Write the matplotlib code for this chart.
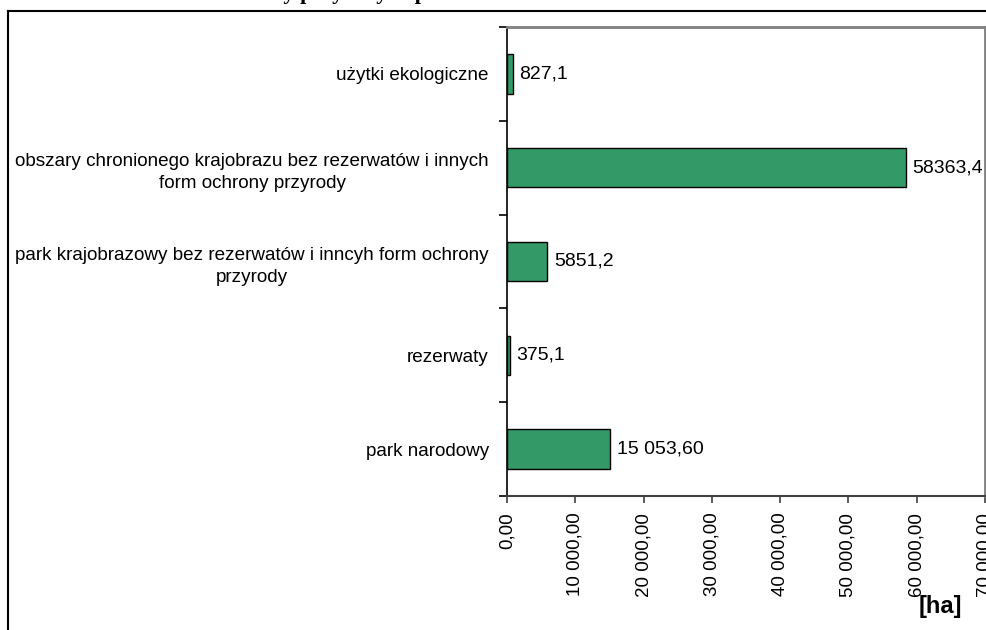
import matplotlib
matplotlib.use("Agg")
import matplotlib.pyplot as plt
from matplotlib.lines import Line2D

plt.rcParams['font.family'] = ['Liberation Sans', 'DejaVu Sans']

# Protected areas (bottom to top)
categories = [
    "park narodowy",
    "rezerwaty",
    "park krajobrazowy bez rezerwatów i inncyh form ochrony\nprzyrody",
    "obszary chronionego krajobrazu bez rezerwatów i innych\nform ochrony przyrody",
    "użytki ekologiczne",
]
areas_ha = [15053.60, 375.1, 5851.2, 58363.4, 827.1]
value_labels = ["15 053,60", "375,1", "5851,2", "58363,4", "827,1"]
x_ticks = [0, 10000, 20000, 30000, 40000, 50000, 60000, 70000]
x_tick_labels = ["0,00", "10 000,00", "20 000,00", "30 000,00",
                 "40 000,00", "50 000,00", "60 000,00", "70 000,00"]
title = "Powierzchnia form ochrony przyrody w powiecie"

W, H = 986, 630
fig = plt.figure(figsize=(W / 100, H / 100), dpi=100)

# heading sits above the page edge; only its descenders reach the sheet
fig.text(30 / W, 1 + 1 / H, title, family=['Liberation Serif', 'DejaVu Serif'],
         fontweight='bold', fontsize=16, ha='left', va='baseline')

# outer frame (left and top edges)
fig.add_artist(Line2D([8 / W, 8 / W], [0, 1 - 11 / H], transform=fig.transFigure,
                      color='black', lw=1.5))
fig.add_artist(Line2D([8 / W, 1], [1 - 11 / H, 1 - 11 / H], transform=fig.transFigure,
                      color='black', lw=1.5))

left, right, top, bottom = 507, 985, 27, 496
ax = fig.add_axes([left / W, 1 - bottom / H, (right - left) / W, (bottom - top) / H])

ypos = list(range(len(categories)))
ax.barh(ypos, areas_ha, height=0.42, color='#339966', edgecolor='black', linewidth=1.0)

for y, v, lab in zip(ypos, areas_ha, value_labels):
    ax.annotate(lab, (v, y), xytext=(5, 0), textcoords='offset points',
                ha='left', va='center', fontsize=14)

ax.set_xlim(0, 70000)
ax.set_ylim(-0.5, len(categories) - 0.5)

ax.set_xticks(x_ticks)
ax.set_xticklabels(x_tick_labels, rotation=90, ha='center', va='top', fontsize=13.5)
ax.tick_params(axis='x', direction='out', length=5, width=1.2, color='#404040', pad=7)

ax.set_yticks(ypos)
ax.set_yticklabels(categories, fontsize=13.6, multialignment='center', linespacing=1.4)
ax.tick_params(axis='y', which='major', length=0, pad=13)
ax.set_yticks([y - 0.5 for y in range(len(categories) + 1)], minor=True)
ax.tick_params(axis='y', which='minor', direction='out', length=6, width=1.2, color='black')

ax.spines['left'].set_color('black')
ax.spines['left'].set_linewidth(1.2)
ax.spines['bottom'].set_color('#404040')
ax.spines['bottom'].set_linewidth(1.5)
for s in ('top', 'right'):
    ax.spines[s].set_color('#808080')
    ax.spines[s].set_linewidth(2)

fig.text(940 / W, 1 - 606 / H, "[ha]", fontweight='bold', fontsize=17,
         ha='center', va='center')

fig.savefig("out.png", dpi=100)
